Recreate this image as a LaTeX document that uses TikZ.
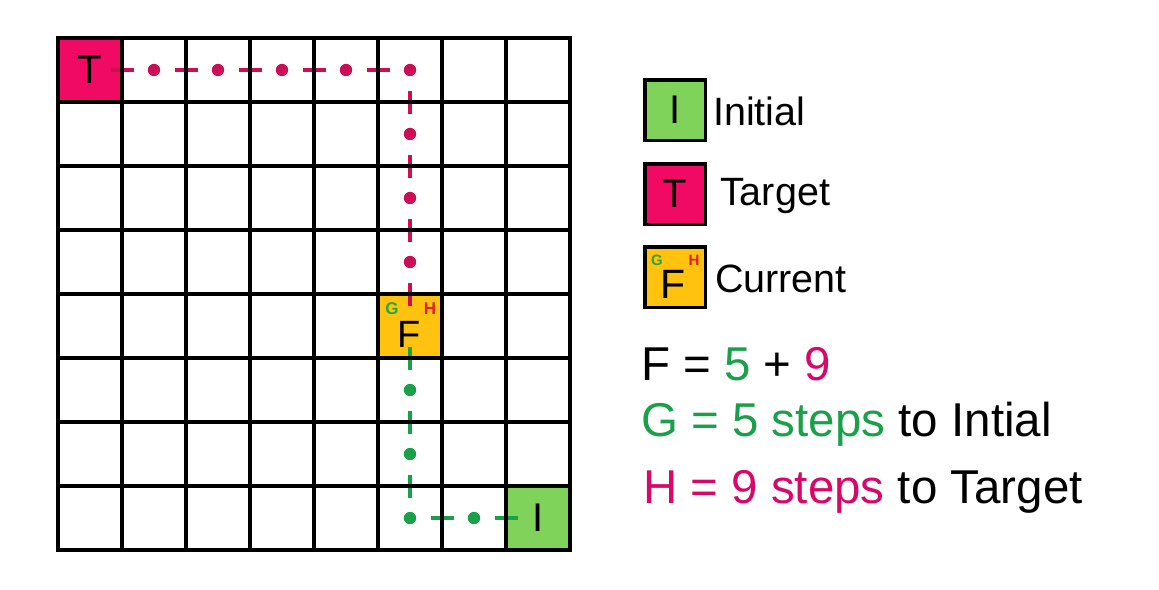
\documentclass[tikz,border=0pt]{standalone}
\usepackage{fontspec}
\setmainfont{Liberation Sans}
\definecolor{tpink}{HTML}{F00A64}
\definecolor{igreen}{HTML}{80D35A}
\definecolor{fyellow}{HTML}{FFC20E}
\definecolor{pathred}{HTML}{CB0E55}
\definecolor{pathgreen}{HTML}{18A04A}
\definecolor{hred}{HTML}{E01F26}
\definecolor{ggreen}{HTML}{2BA53A}
\definecolor{fgreen}{HTML}{1A9F4B}
\definecolor{fpink}{HTML}{D8086A}
\begin{document}
\begin{tikzpicture}[x=1pt,y=-1pt,
  cell/.style={minimum size=64pt,inner sep=0pt,outer sep=0pt,draw=none},
  legbox/.style={minimum size=60.5pt,inner sep=0pt,draw=black,line width=3.5pt},
  gridline/.style={line width=3.8pt,black,line cap=rect},
  pathstyle/.style={line width=3.2pt,dash pattern=on 23pt off 41pt,dash phase=43pt},
  bigletter/.style={inner sep=0pt,font=\fontsize{40}{40}\selectfont},
  small/.style={inner sep=0pt,font=\fontsize{17}{17}\selectfont\bfseries},
  legtext/.style={inner sep=0pt,anchor=base west,font=\fontsize{39.5}{39.5}\selectfont},
  formula/.style={inner sep=0pt,anchor=base west,font=\fontsize{47.5}{47.5}\selectfont}]
\useasboundingbox (0,0) rectangle (1159,589);
% coloured cells
\node[cell,fill=tpink] (T) at (90,70) {};
\node[cell,fill=fyellow] (F) at (410,326) {};
\node[cell,fill=igreen] (I) at (538,518) {};
% paths
\draw[pathstyle,pathred] (T.center) -| (F.center);
\draw[pathstyle,pathgreen] (F.center) |- (I.center);
\foreach \x in {154,218,282,346,410} \fill[pathred] (\x,70) circle (6.2pt);
\foreach \y in {134,198,262} \fill[pathred] (410,\y) circle (6.2pt);
\foreach \y in {390,454,518} \fill[pathgreen] (410,\y) circle (6.2pt);
\fill[pathgreen] (474,518) circle (6.2pt);
% grid
\foreach \i in {0,...,8} {
  \draw[gridline] ({58+64*\i},38) -- ({58+64*\i},550);
  \draw[gridline] (58,{38+64*\i}) -- (570,{38+64*\i});
}
% letters in grid
\node[bigletter] (Tl) at (90,70) {T};
\node[bigletter] (Il) at (538,518) {I};
\node[bigletter,font=\fontsize{38}{38}\selectfont] (Fl) at (409,334) {F};
\node[small,text=ggreen] (Gs) at (392,309) {G};
\node[small,text=hred] (Hs) at (430,309) {H};
% legend
\node[legbox,fill=igreen] (LI) at (675,110) {};
\node[legbox,fill=tpink] (LT) at (675,194) {};
\node[legbox,fill=fyellow] (LF) at (675,277) {};
\node[bigletter] (LIl) at (675,110) {I};
\node[bigletter] (LTl) at (675,194) {T};
\node[bigletter,font=\fontsize{41}{41}\selectfont] (LFl) at (673,284) {F};
\node[small,font=\fontsize{15}{15}\selectfont\bfseries,text=ggreen] (LGs) at (657,260) {G};
\node[small,font=\fontsize{15}{15}\selectfont\bfseries,text=hred] (LHs) at (694,260) {H};
\node[legtext] (tI) at (713,125) {Initial};
\node[legtext] (tT) at (720,205) {Target};
\node[legtext] (tC) at (715,292) {Current};
% formulas
\node[formula] (f1) at (641,380) {F = \textcolor{fgreen}{5} + \textcolor{fpink}{9}};
\node[formula] (f2) at (641,436) {\textcolor{fgreen}{G = 5 steps} to Intial};
\node[formula] (f3) at (643,503) {\textcolor{fpink}{H = 9 steps} to Target};
\end{tikzpicture}
\end{document}
